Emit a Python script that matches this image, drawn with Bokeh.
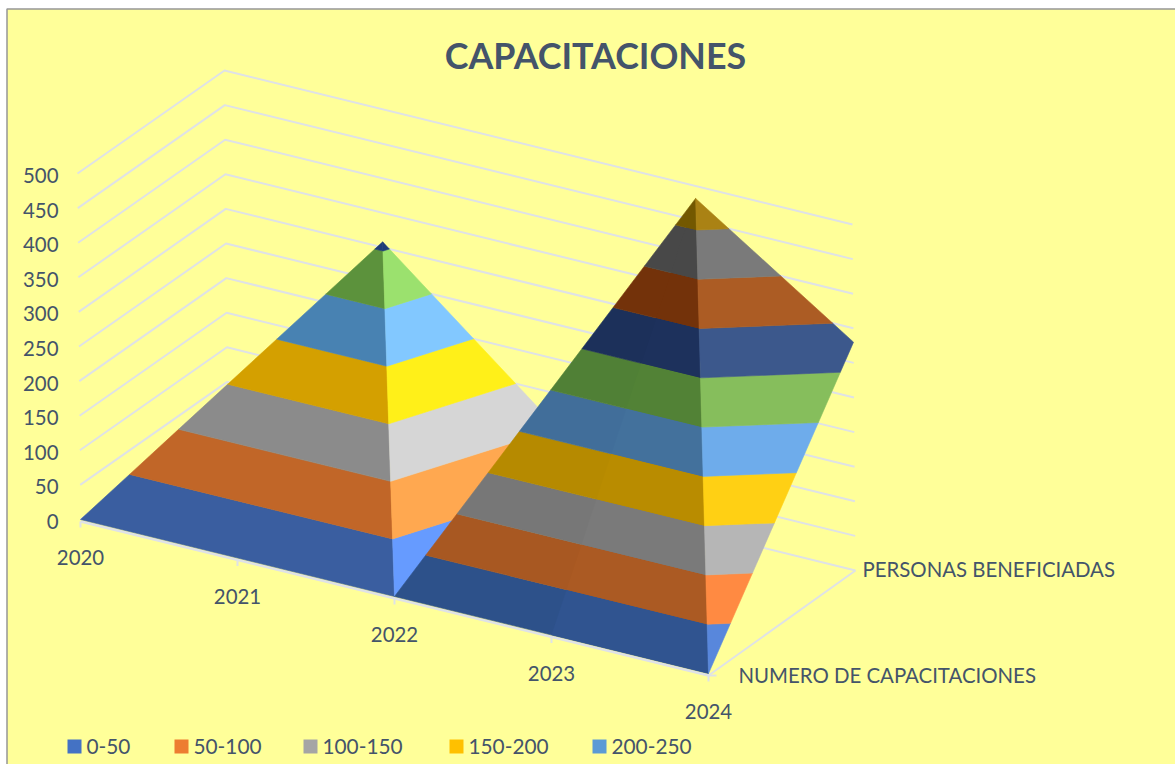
from bokeh.plotting import figure
from bokeh.models import Range1d, ColumnDataSource
from bokeh.core.properties import value
from bokeh.embed import file_html
from bokeh.resources import INLINE

YEARS = ["2020", "2021", "2022", "2023", "2024"]
SERIES = ["NUMERO DE CAPACITACIONES", "PERSONAS BENEFICIADAS"]
NUMERO = [0, 0, 0, 0, 0]
PERSONAS = [0, 308, 120, 482, 330]
Z_TICKS = [0, 50, 100, 150, 200, 250, 300, 350, 400, 450, 500]
LEGEND_LABELS = ["0-50", "50-100", "100-150", "150-200", "200-250"]
LEGEND_COLORS = ["#4472C4", "#ED7D31", "#A5A5A5", "#FFC000", "#5B9BD5"]

DARK_A = ["#3A5EA0", "#C16628", "#8B8B8B", "#D4A000", "#4882B2", "#5C923C", "#1E3C78"]
LIGHT_A = ["#669BFF", "#FFA850", "#D6D6D6", "#FFF019", "#82C8FF", "#9BE16E", "#1E3C78"]
DARK_B1 = ["#2D518A", "#A85822", "#777777", "#B68A00", "#416E9A", "#508036", "#1C305A", "#73320A", "#484848", "#735800"]
DARK_B2 = ["#305490", "#AB5A23", "#7A7A7A", "#B98C00", "#43719C", "#528236", "#1D315C", "#73320A", "#484848", "#735800"]
LIGHT_B = ["#5887DC", "#FF8A42", "#B6B6B6", "#FFD014", "#6EACEB", "#86BE5C", "#3C588C", "#AC5C24", "#7A7A7A", "#AA8214"]

# triangles over the (year, series) grid, painted back to front, with their band colours
FACES = [
    (((0, 0), (2, 0), (1, 1)), DARK_A, 0.6),
    (((2, 0), (1, 1), (2, 1)), LIGHT_A, 0.6),
    (((2, 0), (4, 0), (3, 1)), DARK_B1, 0.6),
    (((3, 0), (4, 0), (3, 1)), DARK_B2, 0),
    (((4, 0), (3, 1), (4, 1)), LIGHT_B, 0.6),
]

TEXT = "#44546A"
GRID = "#DFE2E6"
YELLOW = "#FFFF99"
FONT = value("Lato")
SIZE = "20.4px"
W, H = 1175, 764


def sx(i, j, z=0):
    return 80 + 157 * i + 147 * j - 0.006 * z


def sy(i, j, z=0):
    return 519 + 38.5 * i - 103 * j - 0.692 * z


def height(i, j):
    return (NUMERO, PERSONAS)[j][i]


def clip(poly, level, keep_above):
    out = []
    for k in range(len(poly)):
        a, b = poly[k], poly[(k + 1) % len(poly)]
        ina = a[2] >= level if keep_above else a[2] <= level
        inb = b[2] >= level if keep_above else b[2] <= level
        if ina:
            out.append(a)
        if ina != inb:
            t = (level - a[2]) / (b[2] - a[2])
            out.append(tuple(a[m] + t * (b[m] - a[m]) for m in range(3)))
    return out


p = figure(width=W, height=H, output_backend="svg", toolbar_location=None,
           x_range=Range1d(0, W), y_range=Range1d(H, 0),
           x_axis_type=None, y_axis_type=None, min_border=0,
           background_fill_color="#FFFFFF", border_fill_color="#FFFFFF", outline_line_color=None)
p.grid.visible = False

# chart frame
p.quad(left=[6.5], right=[W], top=[8.5], bottom=[H], fill_color=YELLOW, line_color=None)
p.line([6.5, 6.5, W], [H, 8.5, 8.5], line_color="#969696", line_width=1.5)

# walls
n = len(YEARS) - 1
for z in Z_TICKS:
    p.line([sx(0, 0, z), sx(0, 1, z), sx(n, 1, z)], [sy(0, 0, z), sy(0, 1, z), sy(n, 1, z)],
           line_color=GRID, line_width=2)
p.line([sx(n, 0), sx(n, 1)], [sy(n, 0) + 2, sy(n, 1)], line_color=GRID, line_width=2)

# year axis with ticks
p.line([sx(0, 0), sx(n, 0)], [sy(0, 0) + 2, sy(n, 0) + 2], line_color=GRID, line_width=2.5)
for i in range(len(YEARS)):
    p.line([sx(i, 0), sx(i, 0)], [sy(i, 0) + 2, sy(i, 0) + 8], line_color=GRID, line_width=2)
p.line([sx(n, 0), sx(n, 0) + 8], [sy(n, 0) + 2, sy(n, 0) + 2], line_color=GRID, line_width=2)

# surface bands
for tri, palette, stroke in FACES:
    xs, ys, cols = [], [], []
    verts = [(float(i), float(j), float(height(i, j))) for i, j in tri]
    for b, col in enumerate(palette):
        poly = clip(clip(verts, Z_TICKS[b], True), Z_TICKS[b + 1], False)
        if len(poly) >= 3:
            xs.append([sx(a, c, z) for a, c, z in poly])
            ys.append([sy(a, c, z) for a, c, z in poly])
            cols.append(col)
    p.patches("xs", "ys", source=ColumnDataSource(dict(xs=xs, ys=ys, c=cols)),
              fill_color="c", line_color="c" if stroke else None, line_width=stroke or 1)

# texts
p.text([58] * len(Z_TICKS), [sy(0, 0, z) + 2 for z in Z_TICKS], text=[str(z) for z in Z_TICKS],
       text_align="right", text_baseline="middle", text_color=TEXT,
       text_font=FONT, text_font_size=SIZE)
p.text([sx(i, 0) for i in range(len(YEARS))], [sy(i, 0) + 38 for i in range(len(YEARS))], text=YEARS,
       text_align="center", text_baseline="middle", text_color=TEXT,
       text_font=FONT, text_font_size=SIZE)
p.text([738, 862], [674, 568], text=SERIES, text_align="left", text_baseline="middle",
       text_color=TEXT, text_font=FONT, text_font_size=SIZE)
p.text([595], [55], text=["CAPACITACIONES"], text_align="center", text_baseline="middle",
       text_color=TEXT, text_font=FONT, text_font_style="bold", text_font_size="35.8px")

# legend
swatch_x = [74, 181, 310, 456, 599]
p.rect(swatch_x, [746] * 5, width=14, height=14, fill_color=LEGEND_COLORS, line_color=None)
p.text([x + 12 for x in swatch_x], [746] * 5, text=LEGEND_LABELS, text_align="left",
       text_baseline="middle", text_color=TEXT, text_font=FONT, text_font_size="20.8px")

open("out.html", "w").write(file_html(p, INLINE))
